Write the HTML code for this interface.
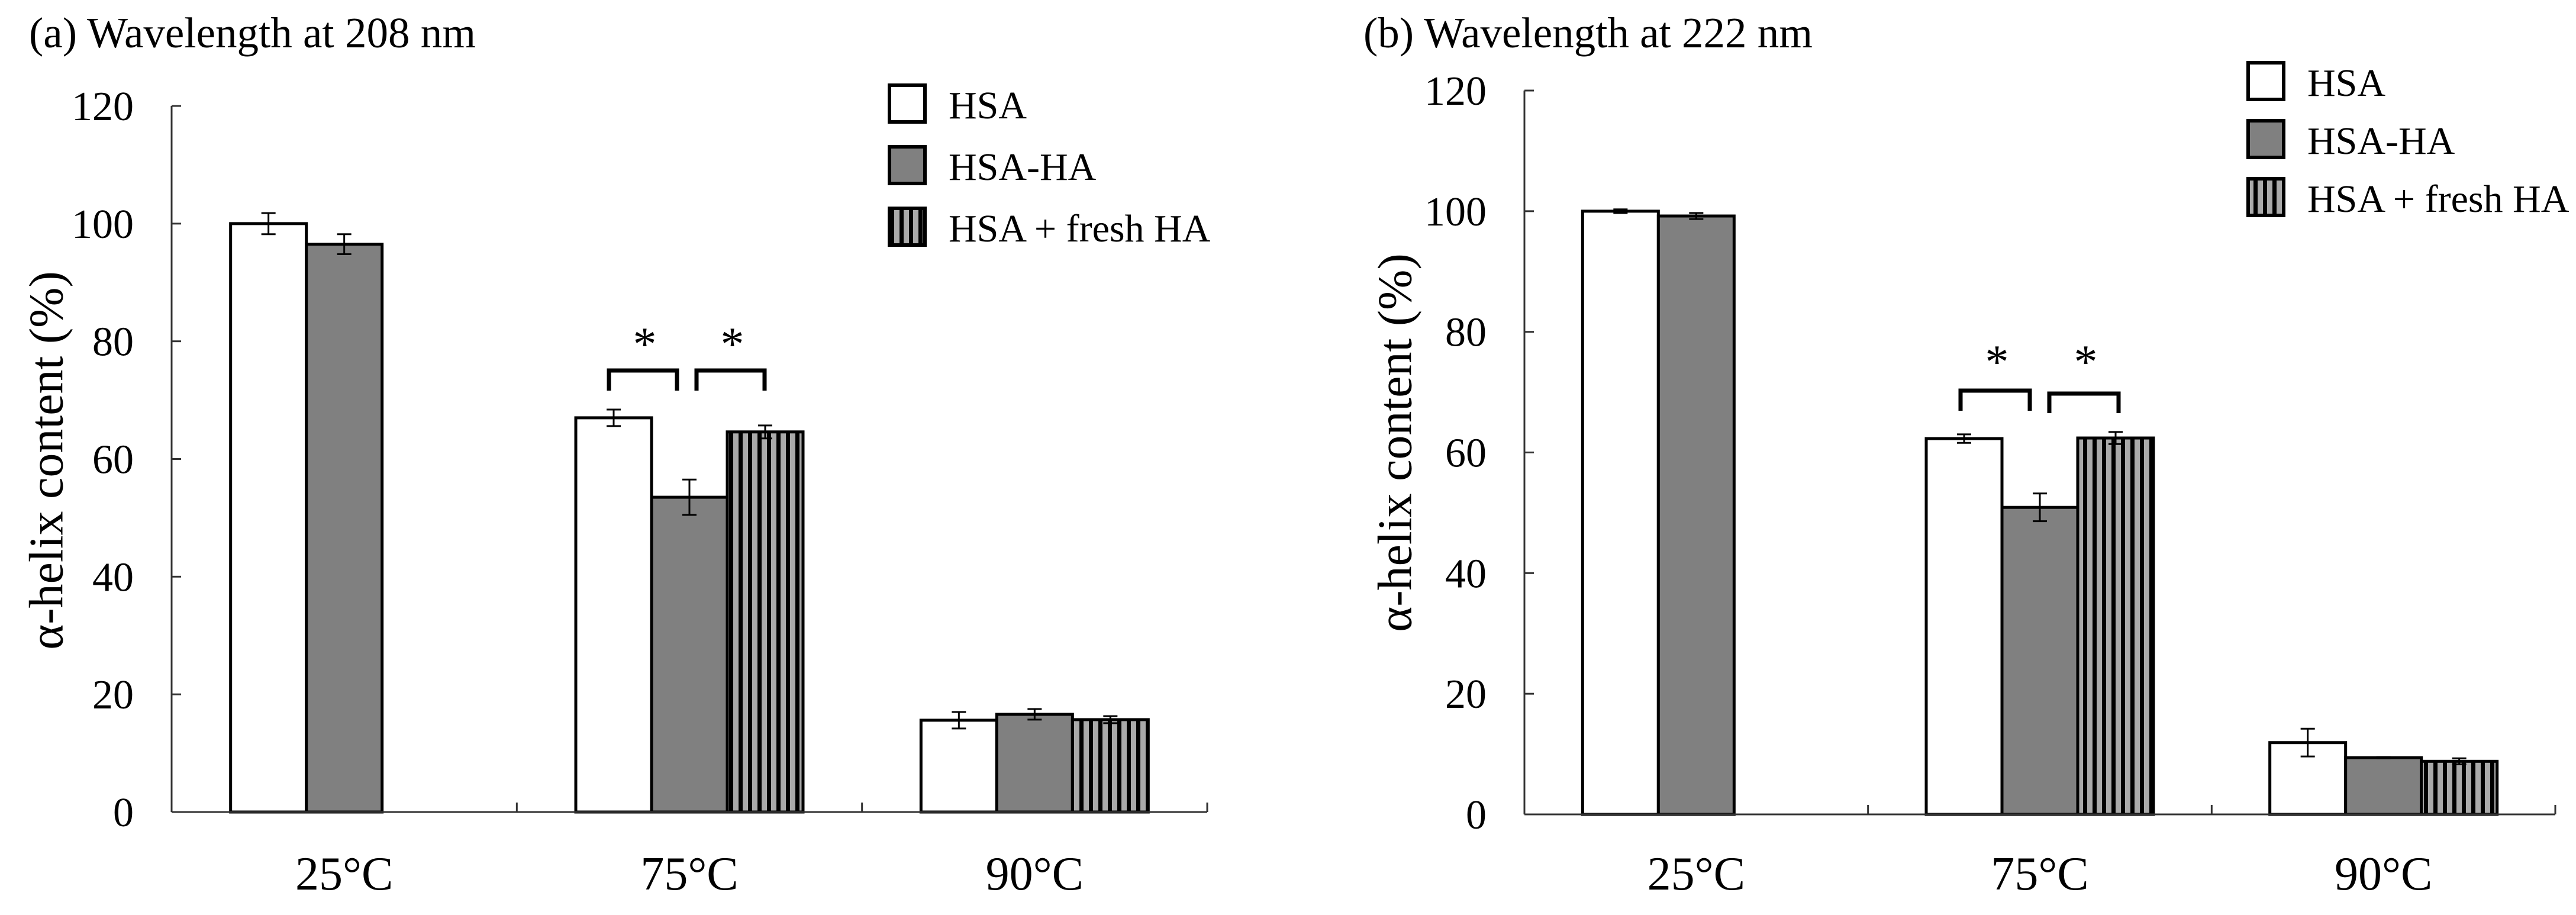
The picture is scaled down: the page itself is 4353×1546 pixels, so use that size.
<!DOCTYPE html>
<html><head><meta charset="utf-8">
<style>
html,body{margin:0;padding:0;background:#fff;}
svg{display:block;font-family:"Liberation Serif","Times New Roman",serif;}
</style></head>
<body>
<svg id="fig" width="4353" height="1546" viewBox="0 0 4353 1546" xmlns="http://www.w3.org/2000/svg">
<defs>
<pattern id="stripes" patternUnits="userSpaceOnUse" width="16" height="16">
<rect x="0" y="0" width="16" height="16" fill="#aaaaaa"/>
<rect x="0" y="0" width="7" height="16" fill="#000"/>
</pattern>
</defs>
</svg>
<script>
// ---- data ----
const categories = ["25\u00b0C", "75\u00b0C", "90\u00b0C"];
const seriesNames = ["HSA", "HSA-HA", "HSA + fresh HA"];
const yTicks = [0, 20, 40, 60, 80, 100, 120];
// Panel (a) 208 nm
const a_HSA = [100, 67.0, 15.6];
const a_HSAHA = [96.5, 53.5, 16.6];
const a_fresh = [null, 64.6, 15.7];
const a_HSA_err = [1.8, 1.4, 1.4];
const a_HSAHA_err = [1.7, 3.0, 0.9];
const a_fresh_err = [null, 1.1, 0.6];
// Panel (b) 222 nm
const b_HSA = [100, 62.3, 11.9];
const b_HSAHA = [99.2, 50.9, 9.4];
const b_fresh = [null, 62.4, 8.8];
const b_HSA_err = [0.3, 0.7, 2.3];
const b_HSAHA_err = [0.5, 2.3, 0.1];
const b_fresh_err = [null, 1.0, 0.5];

const NS = "http://www.w3.org/2000/svg";
const svg = document.getElementById("fig");
function el(tag, attrs, parent, text) {
  const e = document.createElementNS(NS, tag);
  for (const k in attrs) e.setAttribute(k, attrs[k]);
  if (text !== undefined) e.textContent = text;
  (parent || svg).appendChild(e);
  return e;
}
const fills = ["#ffffff", "#808080", "url(#stripes)"];

function panel(cfg) {
  const g = el("g", {});
  
  
  const x0 = cfg.x0, x1 = cfg.x1, y0 = cfg.y0, yTop = cfg.yTop;
  const ymax = 120;
  const Y = v => y0 - (v / ymax) * (y0 - yTop);
  const catW = (x1 - x0) / categories.length;
  const barW = 128;
  const X = (ci, si) => x0 + catW * ci + catW / 2 - 1.5 * barW + si * barW;

  // title
  const t = el("text", {x: cfg.titleX, y: 80, "font-size": 73, fill: "#000"}, g, cfg.title);
  
  

  // y axis
  const ya = el("line", {x1: x0, y1: yTop, x2: x0, y2: y0, stroke: "#333", "stroke-width": 3}, g);
  
  
  yTicks.forEach(v => {
    const tk = el("line", {x1: x0, y1: Y(v), x2: x0 + 16, y2: Y(v), stroke: "#333", "stroke-width": 3}, g);
    
    
    const lb = el("text", {x: x0 - 64, y: Y(v) + 24, "font-size": 70, "text-anchor": "end", fill: "#000"}, g, String(v));
    
    
  });
  const yl = el("text", {x: 0, y: 0, "font-size": 82, "text-anchor": "middle", "dominant-baseline": "central", fill: "#000",
    transform: "translate(" + cfg.ylabX + "," + cfg.ylabY + ") rotate(-90)"}, g, "\u03b1-helix content (%)");
  
  

  // bars
  const series = [cfg.s0, cfg.s1, cfg.s2];
  const errs = [cfg.e0, cfg.e1, cfg.e2];
  series.forEach((vals, si) => {
    vals.forEach((v, ci) => {
      if (v === null) return;
      const bx = X(ci, si);
      const r = el("rect", {x: bx, y: Y(v), width: barW, height: y0 - Y(v), fill: fills[si], stroke: "#000", "stroke-width": 5}, g);
      
      
    });
  });
  // x axis
  const xa = el("line", {x1: x0, y1: y0, x2: x1, y2: y0, stroke: "#333", "stroke-width": 3}, g);
  
  
  for (let i = 1; i <= categories.length; i++) {
    const tk = el("line", {x1: x0 + catW * i, y1: y0, x2: x0 + catW * i, y2: y0 - 16, stroke: "#333", "stroke-width": 3}, g);
    
    
  }
  categories.forEach((c, ci) => {
    const lb = el("text", {x: x0 + catW * ci + catW / 2, y: 1503, "font-size": 80, "text-anchor": "middle", fill: "#000"}, g, c);
    
    
  });
  // error bars
  series.forEach((vals, si) => {
    vals.forEach((v, ci) => {
      const e = errs[si][ci];
      if (v === null || e === null) return;
      const cx = X(ci, si) + barW / 2;
      const eg = el("g", {stroke: "#000", "stroke-width": 3}, g);
      
      
      el("line", {x1: cx, y1: Y(v + e), x2: cx, y2: Y(v - e)}, eg);
      el("line", {x1: cx - 12, y1: Y(v + e), x2: cx + 12, y2: Y(v + e)}, eg);
      el("line", {x1: cx - 12, y1: Y(v - e), x2: cx + 12, y2: Y(v - e)}, eg);
    });
  });
  // significance brackets
  cfg.brackets.forEach(b => {
    const p = el("path", {d: "M" + b[0] + "," + b[3] + " L" + b[0] + "," + b[2] + " L" + b[1] + "," + b[2] + " L" + b[1] + "," + b[3],
      fill: "none", stroke: "#000", "stroke-width": 7}, g);
    
    
    const s = el("text", {x: (b[0] + b[1]) / 2 + 3, y: b[4], "font-size": 80, "text-anchor": "middle", fill: "#000"}, g, "*");
    
    
  });
  // legend
  const lg = el("g", {}, g);
  
  
  seriesNames.forEach((n, i) => {
    const r = el("rect", {x: cfg.legX, y: cfg.legY + i * cfg.legStep, width: 60, height: 62, fill: fills[i], stroke: "#000", "stroke-width": 6}, lg);
    
    
    const tx = el("text", {x: cfg.legX + 100, y: cfg.legY + i * cfg.legStep + 56, "font-size": 66, fill: "#000"}, lg, n);
    
    
  });
}

panel({name: "panel-a-208nm", title: "(a) Wavelength at 208 nm", titleX: 49,
  x0: 290, x1: 2040, y0: 1372, yTop: 179, ylabX: 78, ylabY: 778,
  s0: a_HSA, s1: a_HSAHA, s2: a_fresh, e0: a_HSA_err, e1: a_HSAHA_err, e2: a_fresh_err,
  brackets: [[1029, 1144, 626, 660, 608], [1177, 1292, 626, 660, 608]],
  legX: 1503, legY: 144, legStep: 104});
panel({name: "panel-b-222nm", title: "(b) Wavelength at 222 nm", titleX: 2304,
  x0: 2576, x1: 4318, y0: 1376, yTop: 153, ylabX: 2357, ylabY: 748,
  s0: b_HSA, s1: b_HSAHA, s2: b_fresh, e0: b_HSA_err, e1: b_HSAHA_err, e2: b_fresh_err,
  brackets: [[3313, 3430, 660, 694, 638], [3463, 3580, 665, 698, 638]],
  legX: 3799, legY: 106, legStep: 98});
</script>
</body></html>
